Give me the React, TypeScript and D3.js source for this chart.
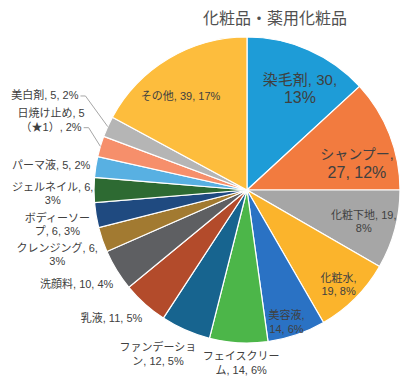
import React, { useRef, useEffect } from 'react';
import * as d3 from 'd3';

const categories = [
  '染毛剤', 'シャンプー', '化粧下地', '化粧水', '美容液', 'フェイスクリーム',
  'ファンデーション', '乳液', '洗顔料', 'クレンジング', 'ボディーソープ',
  'ジェルネイル', 'パーマ液', '日焼け止め', '美白剤', 'その他',
];
const values = [30, 27, 19, 19, 14, 14, 12, 11, 10, 6, 6, 6, 5, 5, 5, 39];
const notes = ['', '', '', '', '', '', '', '', '', '', '', '', '', '（★1）', '', ''];

const colors = [
  '#1e9cd7', '#f27b3f', '#a6a6a6', '#fbb42c', '#2a72c4', '#4cb649',
  '#17648f', '#b34b2b', '#5e5f62', '#a27a31', '#1f4a80', '#2d6a32',
  '#58b0e2', '#f68f6b', '#b5b5b5', '#fdbd3d',
];

// where each label wraps (char index, 0 = single line)
const breakAt = [8, 6, 9, 4, 4, 7, 7, 0, 0, 10, 6, 10, 0, 8, 0, 0];
// label placement: radius factor, angle shift (deg) from slice middle
const labelPlace: [number, number][] = [
  [0.75, 3.8], [0.74, 7.5], [0.79, 0], [0.86, 0.9], [0.9, 2.3], [1.13, -1.2],
  [1.22, 4.8], [1.22, 4.7], [1.27, 2.8], [1.31, 0.2], [1.26, -0.9], [1.27, -1],
  [1.29, -1.4], [1.36, 3.1], [1.46, 0.7], [0.75, -4.6],
];
const fontSizes: [number, number][] = [
  [15, 16], [14, 16], [11, 11], [11, 11], [11, 11], [11, 11], [11, 11], [11, 11],
  [11, 11], [11, 11], [11, 11], [11, 11], [11, 11], [11, 11], [11, 11], [11, 11],
];
const leaders = [13, 14];

const W = 409;
const H = 388;

const PieChart: React.FC = () => {
  const svgRef = useRef<SVGSVGElement>(null);

  useEffect(() => {
    if (!svgRef.current) return;
    const svg = d3.select(svgRef.current);
    svg.selectAll('*').remove();

    const cx = 247, cy = 190, r = 153;
    const textColor = '#404040';
    // latin font first keeps line boxes tight; kana/kanji fall through to Noto CJK
    const font = "'Liberation Sans', 'Noto Sans CJK JP', sans-serif";
    const total = d3.sum(values);

    svg.append('rect').attr('width', W).attr('height', H).attr('fill', '#fff');

    svg.append('text')
      .attr('x', 275)
      .attr('y', 18)
      .attr('text-anchor', 'middle')
      .attr('dominant-baseline', 'central')
      .attr('font-family', font)
      .attr('font-size', 16)
      .attr('fill', '#505050')
      .text('化粧品・薬用化粧品');

    const g = svg.append('g').attr('transform', `translate(${cx},${cy})`);

    const pie = d3.pie<number>().sort(null).value(d => d);
    const arcs = pie(values);
    const arc = d3.arc<d3.PieArcDatum<number>>().innerRadius(0).outerRadius(r);

    g.selectAll('path.slice')
      .data(arcs)
      .enter().append('path')
      .attr('class', 'slice')
      .attr('d', arc)
      .attr('fill', (_, i) => colors[i])
      .attr('stroke', '#fff')
      .attr('stroke-width', 1.2);

    arcs.forEach((a, i) => {
      const pct = Math.round((values[i] / total) * 100);
      const full = `${categories[i]}, ${values[i]}${notes[i]}, ${pct}%`;
      const lines = breakAt[i] > 0
        ? [full.slice(0, breakAt[i]).trim(), full.slice(breakAt[i]).trim()]
        : [full];
      const mid = (a.startAngle + a.endAngle) / 2;
      const [k, shift] = labelPlace[i];
      const ang = mid + (shift * Math.PI) / 180;
      const lx = Math.sin(ang) * r * k;
      const ly = -Math.cos(ang) * r * k;
      const sizes = fontSizes[i];
      const lh = sizes[1] >= 14 ? 18 : 13.5;

      const t = g.append('text')
        .attr('x', lx)
        .attr('y', ly - ((lines.length - 1) / 2) * lh)
        .attr('text-anchor', 'middle')
        .attr('dominant-baseline', 'central')
        .attr('font-family', font)
        .attr('fill', textColor);
      let lastSpan: SVGTSpanElement | null = null;
      lines.forEach((ln, j) => {
        const s = t.append('tspan')
          .attr('x', lx)
          .attr('dy', j === 0 ? 0 : lh)
          .attr('font-size', sizes[j] ?? sizes[0])
          .text(ln);
        lastSpan = s.node();
      });

      if (leaders.includes(i) && lastSpan) {
        const span = lastSpan as SVGTSpanElement;
        const len = span.getComputedTextLength();
        const sx = lx + len / 2 + 2;
        const sy = ly + ((lines.length - 1) / 2) * lh + 1;
        const ex = Math.sin(mid) * r;
        const ey = -Math.cos(mid) * r;
        g.append('path')
          .attr('d', d3.line()([[sx, sy], [sx + 5, sy], [ex, ey]]))
          .attr('fill', 'none')
          .attr('stroke', '#a6a6a6')
          .attr('stroke-width', 1);
      }
    });
  }, []);

  return <svg ref={svgRef} width={W} height={H} style={{ position: 'absolute', left: 0, top: 0 }} />;
};

export default function App() {
  return <PieChart />;
}
